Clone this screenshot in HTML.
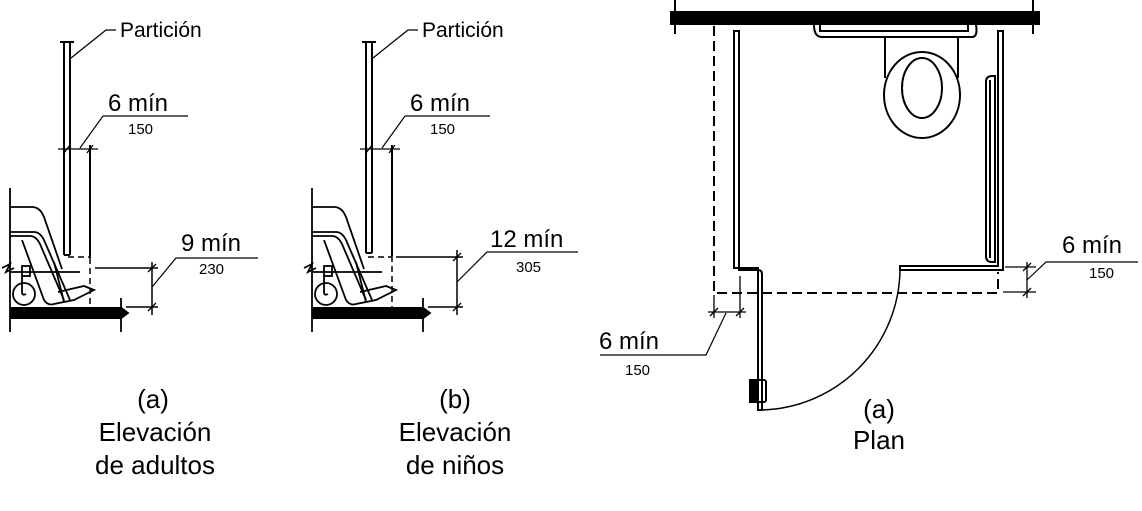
<!DOCTYPE html>
<html><head><meta charset="utf-8"><style>
html,body{margin:0;padding:0;background:#fff;}
svg{display:block;font-family:"Liberation Sans",Arial,sans-serif;}
</style></head><body>
<svg width="1142" height="511" viewBox="0 0 1142 511" xmlns="http://www.w3.org/2000/svg">
<defs>
<g id="elev" fill="none" stroke="#000" stroke-width="1.8">
  <line x1="10" y1="188" x2="10" y2="332"/>
  <path d="M2,268 l8,-4 l-4,8 l8,-4"/>
  <rect x="10" y="307" width="110" height="12" fill="#000" stroke="none"/>
  <path d="M120,307 l8,6 l-8,6" fill="#000"/>
  <line x1="121" y1="298" x2="121" y2="332"/>
  <path d="M10,207 h22 q8,0 12,10 l18,52"/>
  <path d="M10,232 h24 q6,0 10,8 l26,60"/>
  <path d="M10,236 h20 q6,0 10,8 l24,56"/>
  <path d="M22,240 l22,60 q4,6 10,4 l20,-4 l20,-10 l-10,-4 l-26,6"/>
  <path d="M54,262 l10,40"/>
  <line x1="10" y1="272" x2="80" y2="272"/>
  <rect x="22" y="266" width="8" height="10"/>
  <circle cx="24" cy="294" r="11"/>
  <path d="M22,276 v16 q0,4 4,2"/>
</g>
</defs>

<g fill="none" stroke="#000" stroke-width="2">
  <line x1="64" y1="42" x2="64" y2="255"/>
  <line x1="70" y1="42" x2="70" y2="255"/>
  <line x1="64" y1="255" x2="70" y2="255"/>
  <line x1="60" y1="42" x2="74" y2="42"/>
  <path d="M71,58 L106,30 H116" stroke-width="1.3"/>
  <line x1="58" y1="149" x2="98" y2="149" stroke-width="1.2"/>
  <line x1="90" y1="145" x2="90" y2="258"/>
  <path d="M64,153 l6,-8 M87,153 l6,-8" stroke-width="1.3"/>
  <path d="M103,116 H188 M103,116 L80,148" stroke-width="1.2"/>
  <line x1="90" y1="258" x2="90" y2="308" stroke-dasharray="6,4" stroke-width="1.5"/>
  <line x1="68" y1="257" x2="90" y2="257" stroke-dasharray="6,4" stroke-width="1.5"/>
  <line x1="95" y1="268" x2="158" y2="268" stroke-width="1.5"/>
  <line x1="126" y1="307" x2="158" y2="307" stroke-width="1.5"/>
  <line x1="152" y1="262" x2="152" y2="315" stroke-width="1.5"/>
  <path d="M148,272 l8,-8 M148,311 l8,-8" stroke-width="1.3"/>
  <path d="M152,287 L176,258 H258" stroke-width="1.2"/>
</g>
<use href="#elev"/>
<text x="120" y="37" font-size="21">Partición</text>
<text x="108" y="111" font-size="24">6 mín</text>
<text x="128" y="134" font-size="15">150</text>
<text x="181" y="251" font-size="24">9 mín</text>
<text x="199" y="274" font-size="15">230</text>
<g font-size="26" text-anchor="middle">
<text x="153" y="408">(a)</text>
<text x="155" y="441">Elevación</text>
<text x="155" y="474">de adultos</text>
</g>

<use href="#elev" transform="translate(302,0)"/>
<g fill="none" stroke="#000" stroke-width="2">
  <line x1="366" y1="42" x2="366" y2="253"/>
  <line x1="372" y1="42" x2="372" y2="253"/>
  <line x1="366" y1="253" x2="372" y2="253"/>
  <line x1="362" y1="42" x2="376" y2="42"/>
  <path d="M373,58 L408,30 H418" stroke-width="1.3"/>
  <line x1="360" y1="149" x2="400" y2="149" stroke-width="1.2"/>
  <line x1="392" y1="145" x2="392" y2="256"/>
  <path d="M366,153 l6,-8 M389,153 l6,-8" stroke-width="1.3"/>
  <path d="M405,116 H490 M405,116 L382,148" stroke-width="1.2"/>
  <line x1="392" y1="256" x2="392" y2="308" stroke-dasharray="6,4" stroke-width="1.5"/>
  <line x1="368" y1="257" x2="392" y2="257" stroke-dasharray="6,4" stroke-width="1.5"/>
  <line x1="396" y1="257" x2="463" y2="257" stroke-width="1.5"/>
  <line x1="428" y1="307" x2="463" y2="307" stroke-width="1.5"/>
  <line x1="457" y1="250" x2="457" y2="315" stroke-width="1.5"/>
  <path d="M453,261 l8,-8 M453,311 l8,-8" stroke-width="1.3"/>
  <path d="M457,282 L487,252 H578" stroke-width="1.2"/>
</g>
<text x="422" y="37" font-size="21">Partición</text>
<text x="410" y="111" font-size="24">6 mín</text>
<text x="430" y="134" font-size="15">150</text>
<text x="490" y="247" font-size="24">12 mín</text>
<text x="516" y="272" font-size="15">305</text>
<g font-size="26" text-anchor="middle">
<text x="455" y="408">(b)</text>
<text x="455" y="441">Elevación</text>
<text x="455" y="474">de niños</text>
</g>

<g fill="none" stroke="#000" stroke-width="2">
  <rect x="670" y="11" width="370" height="14" fill="#000" stroke="none"/>
  <line x1="675" y1="0" x2="675" y2="34"/>
  <line x1="1033" y1="0" x2="1033" y2="34"/>
  <path d="M714,26 V293 H998 V272" stroke-dasharray="10,5"/>
  <path d="M734,31 V268 H758 V410 H762 V274 Q762,270 758,270 H739 V31 Z"/>
  <rect x="750" y="380" width="6" height="22" fill="#000"/>
  <rect x="750" y="380" width="16" height="22" rx="2"/>
  <path d="M998,31 V266 H900 V270 H1003 V31 Z"/>
  <path d="M986,82 Q986,76 992,76 H995 V262 H992 Q986,262 986,256 Z"/>
  <line x1="990" y1="80" x2="990" y2="258"/>
  <path d="M814,25 Q814,37 822,37 H972 Q978,37 976,25"/>
  <path d="M820,25 V31 H968 V25"/>
  <path d="M885,37 V78 M958,37 V78"/>
  <ellipse cx="922" cy="95" rx="38" ry="43"/>
  <ellipse cx="922" cy="88" rx="20" ry="30"/>
  <path d="M762,410 A142,142 0 0 0 900,270" stroke-width="1.5"/>
  <line x1="1005" y1="267" x2="1036" y2="267" stroke-width="1.3"/>
  <line x1="1003" y1="292" x2="1036" y2="292" stroke-width="1.3"/>
  <line x1="1027" y1="262" x2="1027" y2="298" stroke-width="1.3"/>
  <path d="M1023,271 l8,-8 M1023,296 l8,-8" stroke-width="1.3"/>
  <path d="M1027,280 L1046,262 H1138" stroke-width="1.2"/>
  <line x1="708" y1="312" x2="746" y2="312" stroke-width="1.3"/>
  <line x1="714" y1="295" x2="714" y2="318" stroke-width="1.3"/>
  <line x1="740" y1="276" x2="740" y2="318" stroke-width="1.3"/>
  <path d="M710,316 l8,-8 M736,316 l8,-8" stroke-width="1.3"/>
  <path d="M726,313 L706,355 H600" stroke-width="1.2"/>
</g>
<text x="1062" y="253" font-size="24">6 mín</text>
<text x="1089" y="278" font-size="15">150</text>
<text x="599" y="349" font-size="24">6 mín</text>
<text x="625" y="375" font-size="15">150</text>
<g font-size="26" text-anchor="middle">
<text x="879" y="418">(a)</text>
<text x="879" y="449">Plan</text>
</g>
</svg>
</body></html>
